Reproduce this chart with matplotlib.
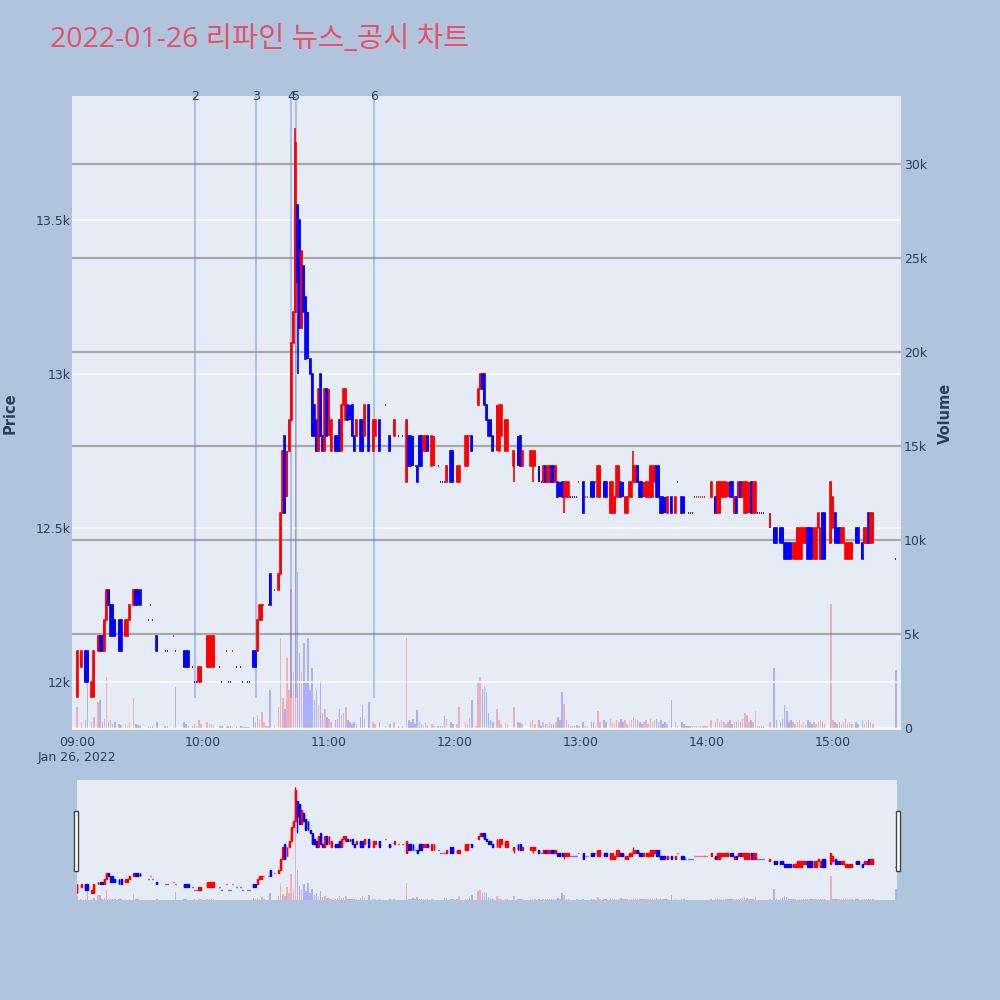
import numpy as np
import matplotlib
matplotlib.use('Agg')
import matplotlib.pyplot as plt
from matplotlib.patches import Rectangle

plt.rcParams['font.family'] = ['DejaVu Sans', 'Noto Sans CJK KR']

# minutes after 09:00 / open / close / volume
min_a = [0, 2, 4, 5, 7, 8, 10, 11, 12, 13, 14, 15, 16, 17, 18, 20, 21, 23, 24, 25,
         27, 28, 29, 30, 34, 35, 36, 38, 42, 43, 46, 47, 51, 52, 53, 55, 56, 57, 58, 59,
         62, 63, 64, 65, 68, 69, 71, 72, 73, 74, 76, 78, 79, 80, 81, 82, 84, 85, 86, 87,
         88, 89, 90, 91, 92, 94]
open_a = [11950, 12050, 12100, 12100, 11950, 11950, 12100, 12150, 12150, 12100, 12200, 12300, 12250, 12250, 12200, 12200, 12200, 12150, 12150, 12200,
          12250, 12300, 12300, 12300, 12200, 12250, 12200, 12150, 12100, 12100, 12150, 12100, 12100, 12100, 12100, 12050, 12000, 12000, 12000, 12000,
          12050, 12050, 12050, 12050, 12050, 12000, 12100, 12000, 12000, 12100, 12050, 12050, 12000, 12000, 12000, 12000, 12100, 12100, 12100, 12200,
          12200, 12250, 12250, 12250, 12350, 12300]
close_a = [12100, 12100, 12000, 12000, 12000, 12100, 12150, 12100, 12100, 12200, 12300, 12250, 12150, 12150, 12150, 12100, 12100, 12200, 12200, 12250,
           12300, 12250, 12250, 12250, 12200, 12250, 12200, 12100, 12100, 12100, 12150, 12100, 12050, 12050, 12050, 12050, 12000, 12000, 12050, 12050,
           12150, 12150, 12150, 12150, 12050, 12000, 12100, 12000, 12000, 12100, 12050, 12050, 12000, 12000, 12000, 12000, 12050, 12050, 12200, 12250,
           12250, 12250, 12250, 12250, 12250, 12300]
vol_a = [1100, 300, 400, 2400, 300, 600, 1400, 1500, 300, 500, 2700, 300, 400, 200, 300, 200, 150, 200, 100, 300,
         1600, 200, 150, 100, 100, 50, 100, 300, 100, 100, 50, 2200, 300, 200, 100, 100, 200, 100, 400, 200,
         300, 200, 200, 150, 100, 100, 50, 100, 100, 50, 100, 100, 50, 50, 50, 50, 600, 300, 700, 400,
         850, 300, 100, 100, 2000, 100]

min_b = [96, 97, 98, 99, 100, 101, 102, 103, 104, 105, 106, 107, 108, 109, 110, 111, 112, 113, 114, 115,
         116, 117, 118, 119, 120, 121, 123, 124, 125, 126, 127, 128, 129, 130, 131, 132, 133, 135, 136, 137,
         139, 141, 142, 144, 147, 149, 151, 153, 155]
open_b = [12300, 12350, 12550, 12800, 12600, 12750, 12850, 13100, 13200, 13550, 13500, 13150, 13350, 13250, 13200, 13050, 13000, 12900, 12850, 12750,
          13000, 12800, 12750, 12950, 12800, 12750, 12800, 12800, 12850, 12750, 12900, 12850, 12900, 12900, 12900, 12800, 12800, 12850, 12850, 12800,
          12900, 12750, 12800, 12850, 12900, 12800, 12800, 12800, 12800]
close_b = [12350, 12550, 12750, 12550, 12750, 12850, 13100, 13200, 13750, 13300, 13150, 13400, 13200, 13050, 13050, 13000, 12800, 12800, 12750, 12950,
           12800, 12750, 12950, 12800, 12950, 12850, 12750, 12750, 12750, 12900, 12950, 12950, 12850, 12850, 12800, 12750, 12850, 12750, 12750, 12900,
           12750, 12850, 12850, 12750, 12900, 12750, 12850, 12800, 12800]
vol_b = [1100, 4800, 1600, 1000, 3700, 2000, 7400, 3000, 31700, 8300, 4000, 3000, 4500, 2500, 4800, 2000, 3200, 1500, 2000, 1200,
         2500, 800, 1000, 600, 500, 300, 400, 500, 1000, 700, 800, 1100, 400, 300, 200, 300, 200, 600, 1200, 500,
         1400, 300, 200, 300, 100, 200, 300, 100, 100]

min_c = [157, 158, 159, 160, 161, 162, 163, 164, 165, 166, 167, 169, 170, 172, 173, 174, 175, 176, 178, 179,
         181, 182, 185, 186, 187, 188, 190, 191, 192, 193, 194, 195, 196, 197, 198, 200, 201, 202, 204, 205,
         208, 210, 211, 212, 216, 217, 218, 220, 221, 222, 223, 224, 225, 226, 227, 228, 229, 230, 231, 232,
         233, 234, 235]
open_c = [12650, 12800, 12800, 12800, 12700, 12700, 12800, 12800, 12750, 12750, 12800, 12700, 12700, 12700, 12650, 12650, 12650, 12650, 12750, 12750,
          12650, 12650, 12700, 12700, 12800, 12800, 12850, 12900, 12950, 13000, 13000, 12900, 12850, 12850, 12800, 12750, 12750, 12800, 12750, 12750,
          12700, 12800, 12800, 12700, 12700, 12700, 12700, 12700, 12650, 12650, 12700, 12650, 12650, 12700, 12700, 12650, 12650, 12650, 12650, 12600,
          12600, 12600, 12600]
close_c = [12850, 12700, 12700, 12700, 12700, 12650, 12700, 12700, 12800, 12800, 12750, 12800, 12800, 12700, 12650, 12650, 12650, 12700, 12650, 12650,
           12700, 12700, 12800, 12800, 12800, 12750, 12850, 12950, 13000, 12950, 12900, 12850, 12800, 12800, 12750, 12900, 12900, 12900, 12850, 12850,
           12750, 12700, 12700, 12750, 12750, 12750, 12750, 12650, 12650, 12700, 12650, 12700, 12700, 12650, 12650, 12700, 12600, 12600, 12600, 12650,
           12650, 12650, 12600]
vol_c = [4800, 400, 300, 500, 200, 950, 300, 200, 150, 250, 150, 200, 100, 100, 100, 100, 640, 500, 300, 200,
         200, 1100, 300, 200, 550, 1500, 100, 2400, 2700, 2100, 2200, 1900, 800, 400, 300, 1000, 400, 200, 250, 200,
         1100, 300, 250, 200, 300, 400, 200, 400, 100, 300, 200, 200, 300, 200, 200, 300, 600, 400, 1900, 1300,
         400, 200, 100]

min_d = [236, 237, 238, 239, 241, 242, 243, 245, 246, 247, 248, 249, 251, 252, 254, 255, 256, 257, 258, 259,
         260, 261, 262, 263, 264, 265, 266, 267, 268, 269, 270, 271, 272, 273, 274, 275, 276, 277, 278, 279,
         280, 281, 283, 285, 286, 288, 289, 290, 291, 292, 293, 294, 295, 296, 297, 298, 299, 300, 302, 304,
         305, 306, 307, 308, 309, 310, 311, 312, 313]
open_d = [12600, 12600, 12600, 12650, 12650, 12600, 12600, 12650, 12650, 12650, 12600, 12600, 12650, 12650, 12550, 12550, 12550, 12600, 12600, 12650,
          12650, 12550, 12550, 12600, 12600, 12650, 12650, 12700, 12650, 12650, 12600, 12600, 12600, 12600, 12600, 12650, 12700, 12700, 12600, 12600,
          12600, 12550, 12600, 12550, 12650, 12600, 12600, 12550, 12550, 12550, 12550, 12600, 12600, 12600, 12600, 12600, 12600, 12600, 12600, 12600,
          12550, 12550, 12600, 12600, 12600, 12600, 12650, 12650, 12550]
close_d = [12600, 12600, 12600, 12650, 12550, 12600, 12600, 12600, 12600, 12650, 12700, 12700, 12600, 12600, 12650, 12650, 12600, 12700, 12700, 12600,
           12600, 12600, 12600, 12650, 12650, 12700, 12700, 12650, 12600, 12600, 12650, 12650, 12650, 12700, 12700, 12700, 12600, 12600, 12550, 12550,
           12550, 12600, 12550, 12600, 12650, 12550, 12550, 12550, 12550, 12550, 12550, 12600, 12600, 12600, 12600, 12600, 12600, 12600, 12650, 12550,
           12650, 12650, 12650, 12650, 12650, 12650, 12600, 12600, 12600]
vol_d = [100, 100, 150, 100, 300, 100, 100, 300, 300, 100, 900, 300, 400, 300, 500, 300, 200, 400, 300, 500,
         300, 400, 200, 300, 400, 600, 500, 400, 300, 200, 300, 400, 200, 500, 300, 400, 500, 300, 400, 200,
         300, 200, 1500, 300, 100, 300, 200, 100, 100, 100, 100, 100, 100, 100, 100, 100, 100, 100, 400, 300,
         500, 300, 400, 300, 200, 300, 400, 200, 300]

min_e = [314, 315, 316, 317, 318, 319, 320, 321, 322, 323, 324, 325, 326, 327, 330, 332, 333, 335, 336, 337,
         338, 339, 340, 341, 342, 343, 344, 345, 346, 347, 348, 349, 350, 351, 352, 353, 354, 355, 356, 359,
         360, 361, 362, 363, 364, 365, 366, 367, 368, 369, 371, 372, 374, 375, 376, 377, 378, 379, 390]
open_e = [12600, 12600, 12650, 12600, 12550, 12550, 12550, 12650, 12550, 12550, 12550, 12550, 12550, 12550, 12500, 12500, 12500, 12500, 12500, 12450,
          12450, 12450, 12450, 12400, 12400, 12400, 12400, 12400, 12450, 12450, 12500, 12500, 12500, 12400, 12400, 12500, 12400, 12550, 12550, 12450,
          12500, 12550, 12500, 12500, 12450, 12450, 12400, 12400, 12400, 12400, 12500, 12500, 12450, 12450, 12450, 12550, 12450, 12450, 12400]
close_e = [12550, 12650, 12600, 12650, 12650, 12650, 12650, 12550, 12650, 12650, 12550, 12550, 12550, 12550, 12550, 12450, 12450, 12450, 12450, 12400,
           12400, 12400, 12400, 12450, 12450, 12500, 12500, 12500, 12500, 12500, 12400, 12400, 12400, 12500, 12500, 12550, 12500, 12400, 12400, 12650,
           12600, 12450, 12450, 12450, 12500, 12500, 12450, 12450, 12450, 12450, 12450, 12450, 12400, 12500, 12500, 12450, 12550, 12550, 12400]
vol_e = [300, 400, 300, 500, 800, 700, 300, 400, 300, 900, 100, 100, 100, 100, 300, 3200, 400, 300, 500, 1200,
         900, 300, 400, 300, 200, 300, 400, 200, 300, 200, 400, 300, 200, 300, 200, 300, 400, 300, 200, 6600,
         400, 300, 200, 300, 200, 300, 500, 200, 300, 200, 300, 200, 400, 200, 300, 400, 300, 200, 3100]

# candles with shadows beyond the body
wick_min = [104, 105, 116, 208, 217, 232, 265]
wick_high = [13800, 13550, 13000, 12750, 12750, 12650, 12750]
wick_low = [13200, 13000, 12800, 12650, 12650, 12550, 12650]

# news / disclosure markers
news_min = [56.2, 85.2, 101.9, 104.3, 141.4]
news_lbl = ['2', '3', '4', '5', '6']

minutes = np.array(min_a + min_b + min_c + min_d + min_e, dtype=float)
opens = np.array(open_a + open_b + open_c + open_d + open_e, dtype=float)
closes = np.array(close_a + close_b + close_c + close_d + close_e, dtype=float)
volumes = np.array(vol_a + vol_b + vol_c + vol_d + vol_e, dtype=float)
highs = np.maximum(opens, closes)
lows = np.minimum(opens, closes)
for m, h, l in zip(wick_min, wick_high, wick_low):
    i = int(np.where(minutes == m)[0][0])
    highs[i] = h
    lows[i] = l

# plotly style direction: flat candles follow the previous close
up = []
prev_c, prev_up = None, True
for o, c in zip(opens, closes):
    if c > o:
        d = True
    elif c < o:
        d = False
    elif prev_c is None or c == prev_c:
        d = prev_up
    else:
        d = c > prev_c
    up.append(d)
    prev_c, prev_up = c, d
up = np.array(up)
RED, BLUE = '#ff0000', '#0000ff'
cols = np.where(up, RED, BLUE)

BG = '#b0c4de'
PLOT_BG = '#e5ecf6'
TXT = '#2a3f5f'

fig = plt.figure(figsize=(10, 10), dpi=100, facecolor=BG)


def draw(ax_v, ax_p, lw, w):
    ax_v.bar(minutes, volumes, width=0.7, color=cols, alpha=0.25, linewidth=0, zorder=2)
    ax_p.vlines(minutes, lows, highs, colors=cols, linewidth=lw, zorder=3)
    ax_p.bar(minutes, closes - opens, bottom=opens, width=w, color=cols,
             edgecolor=cols, linewidth=lw, zorder=4)


# main chart
ax_v = fig.add_axes([0.072, 0.27, 0.829, 0.634])
ax_v.set_facecolor(PLOT_BG)
ax_p = ax_v.twinx()
ax_v.set_zorder(0)
ax_p.set_zorder(1)
ax_p.patch.set_visible(False)

draw(ax_v, ax_p, 1.2, 0.45)

ax_v.set_xlim(-2.4, 392.4)
ax_v.set_ylim(-106, 33617)
ax_p.set_ylim(11844, 13903)

vol_ticks = [0, 5000, 10000, 15000, 20000, 25000, 30000]
ax_v.set_yticks(vol_ticks)
ax_v.set_yticklabels(['0', '5k', '10k', '15k', '20k', '25k', '30k'])
ax_v.yaxis.tick_right()
ax_v.yaxis.set_label_position('right')
for t in vol_ticks[1:]:
    ax_v.axhline(t, color='#a9a9a9', linewidth=1.6, zorder=1)
ax_v.axhline(0, color='white', linewidth=1.6, zorder=1)

price_ticks = [12000, 12500, 13000, 13500]
ax_p.set_yticks(price_ticks)
ax_p.set_yticklabels(['12k', '12.5k', '13k', '13.5k'])
ax_p.yaxis.tick_left()
ax_p.yaxis.set_label_position('left')
for t in price_ticks:
    ax_p.axhline(t, color='white', linewidth=1.1, zorder=1)

xt = [0, 60, 120, 180, 240, 300, 360]
ax_v.set_xticks(xt)
ax_v.set_xticklabels(['09:00\nJan 26, 2022', '10:00', '11:00', '12:00', '13:00', '14:00', '15:00'],
                     linespacing=1.2)
for lab in ax_v.get_xticklabels():
    lab.set_verticalalignment('top')

for a in (ax_v, ax_p):
    for s in a.spines.values():
        s.set_visible(False)
    a.tick_params(length=0, colors=TXT, labelsize=9)
ax_v.tick_params(axis='x', pad=4)
ax_v.tick_params(axis='y', pad=2)
ax_p.tick_params(axis='y', pad=1)

ax_p.set_ylabel('Price', color=TXT, fontsize=10.5, fontweight='bold', labelpad=13)
ax_v.set_ylabel('Volume', color=TXT, fontsize=10.5, fontweight='bold', labelpad=8)

for m, lbl in zip(news_min, news_lbl):
    ax_p.axvline(m, ymin=0.052, ymax=1.0, color='#4169e1', alpha=0.35, linewidth=1.4, zorder=2)
    ax_p.text(m, 1.0, lbl, transform=ax_p.get_xaxis_transform(), ha='center', va='center',
              color=TXT, fontsize=9, zorder=6)

# range slider
ax_sv = fig.add_axes([0.077, 0.10, 0.820, 0.12])
ax_sv.set_facecolor(PLOT_BG)
ax_sp = ax_sv.twinx()
ax_sp.patch.set_visible(False)
draw(ax_sv, ax_sp, 1.0, 0.45)
ax_sv.set_xlim(0, 390.5)
ax_sv.set_ylim(0, 33700)
ax_sp.set_ylim(11828, 13922)
for a in (ax_sv, ax_sp):
    a.set_xticks([])
    a.set_yticks([])
    for s in a.spines.values():
        s.set_visible(False)
for hx in (0.0735, 0.8955):
    fig.patches.append(Rectangle((hx, 0.129), 0.0045, 0.06, transform=fig.transFigure,
                                 facecolor='white', edgecolor='#444444', linewidth=1.0))

fig.text(0.05, 0.96, '2022-01-26 리파인 뉴스_공시 차트', color='#ea4f63', fontsize=20.5,
         ha='left', va='center', family=['Open Sans', 'Noto Sans CJK KR', 'DejaVu Sans'])

fig.savefig('out.png', dpi=100, facecolor=BG)
